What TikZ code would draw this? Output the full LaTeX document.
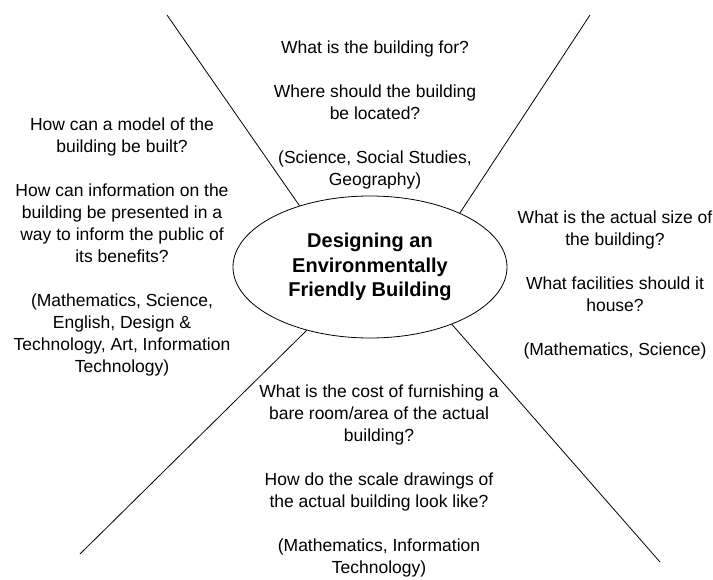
\documentclass[tikz,border=0pt]{standalone}
\usepackage{fontspec}
\setmainfont{Liberation Sans}
\usetikzlibrary{shapes.geometric}
\begin{document}
\begin{tikzpicture}[x=1pt,y=-1pt,
  question/.style={align=center,inner sep=0pt,font=\fontsize{17.5}{22}\selectfont},
  hub/.style={draw,ellipse,line width=0.8pt,minimum width=274pt,minimum height=142pt,
    align=center,inner sep=0pt,font=\fontsize{20}{24.5}\selectfont\bfseries}]

\useasboundingbox (0,0) rectangle (713,579);

\node[hub] (hub) at (370,267) {Designing an\\Environmentally\\Friendly Building};

\node[question] (purpose) at (375,115) {What is the building for?\\[22pt]
Where should the building\\be located?\\[22pt]
(Science, Social Studies,\\Geography)};

\node[question] (model) at (122,247) {How can a model of the\\building be built?\\[22pt]
How can information on the\\building be presented in a\\way to inform the public of\\its benefits?\\[22pt]
(Mathematics, Science,\\English, Design \&\\Technology, Art, Information\\Technology)};

\node[question] (size) at (615,285) {What is the actual size of\\the building?\\[22pt]
What facilities should it\\house?\\[22pt]
(Mathematics, Science)};

\node[question] (cost) at (379,481) {What is the cost of furnishing a\\bare room/area of the actual\\building?\\[22pt]
How do the scale drawings of\\the actual building look like?\\[22pt]
(Mathematics, Information\\Technology)};

\coordinate (nw) at (167,15);
\coordinate (ne) at (590,15);
\coordinate (sw) at (80,554);
\coordinate (se) at (660,562);

\draw[line width=0.8pt] (hub.139) -- (nw);
\draw[line width=0.8pt] (hub.31) -- (ne);
\draw[line width=0.8pt] (hub.225) -- (sw);
\draw[line width=0.8pt] (hub.-35) -- (se);
\end{tikzpicture}
\end{document}
